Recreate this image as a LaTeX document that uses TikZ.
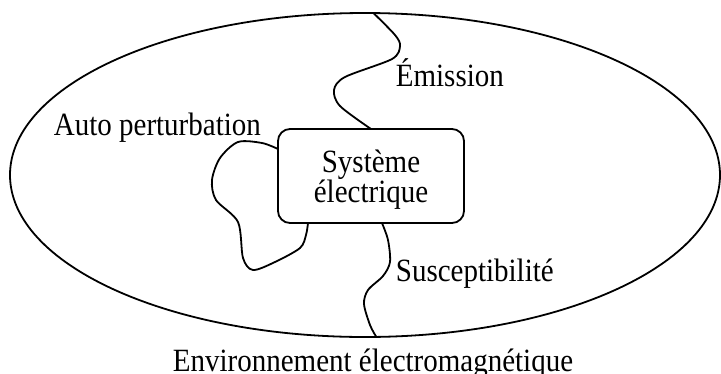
\documentclass[tikz,border=0pt]{standalone}
\usepackage{fontspec}
\setmainfont{Liberation Serif}
\usetikzlibrary{shapes.geometric}
\newcommand{\tall}[1]{\scalebox{1}[1.12]{#1}}
\tikzset{
  lbl/.style={inner sep=0pt},
}
\begin{document}
\begin{tikzpicture}[x=1pt,y=-1pt,line width=1.8pt,font=\fontsize{29}{30}\selectfont]
      \useasboundingbox (0,0) rectangle (721,373);
      \node[ellipse,draw,minimum width=710pt,minimum height=324pt,inner sep=0pt,outer sep=0pt] (env) at (365,175) {};
      \node[draw,rounded corners=12pt,minimum width=186pt,minimum height=94pt,outer sep=0pt] (sys) at (371,176) {};
      \draw
        (371,172) node[lbl,anchor=base] (sys1) {\tall{Système}}
        (371,202) node[lbl,anchor=base] (sys2) {\tall{électrique}}
        (395,86) node[lbl,anchor=base west] (emi) {\tall{Émission}}
        (53,135) node[lbl,anchor=base west] (auto) {\tall{Auto perturbation}}
        (395,281) node[lbl,anchor=base west] (sus) {\tall{Susceptibilité}}
        (373,371) node[lbl,anchor=base] (envlbl) {\tall{Environnement électromagnétique}};
      \coordinate (la) at ([yshift=27pt]sys.west);
      \coordinate (lb) at ([xshift=-63pt]sys.south);
      \coordinate (sa) at ([xshift=11pt]sys.south);
      \begin{scope}[-]
        \draw plot[smooth] coordinates {(env.87) (395,35) (400,46) (392,59) (345,77) (334,90) (340,106) (sys.north)};
        \draw plot[smooth] coordinates {(sa) (388,240) (390,262) (383,276) (368,290) (364,304) (370,325) (env.-86)};
        \draw plot[smooth] coordinates {(la) (262,143) (238,142) (220,158) (212,180) (216,200) (238,222) (243,258) (253,270) (275,262) (300,248) (306,235) (lb)};
      \end{scope}
    \end{tikzpicture}
\end{document}
